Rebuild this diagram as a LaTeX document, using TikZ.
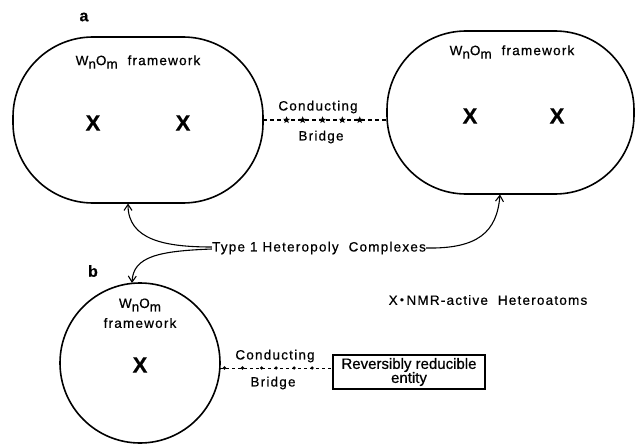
\documentclass[tikz,border=0pt]{standalone}
\usepackage{fontspec}
\setmainfont{Liberation Sans}[LetterSpace=9,FakeBold=0.6]
\newfontfamily\boxfont{Liberation Sans}[FakeBold=0.6]
\usetikzlibrary{arrows.meta,shapes.geometric}
\newcommand\sbs[1]{\raisebox{-0.5ex}{#1}}
\newcommand\wo{W\sbs{n}O\sbs{m}}
\begin{document}
\begin{tikzpicture}[x=1pt,y=-1pt,
  frame/.style={draw,line width=1.6pt,inner sep=0pt,outer sep=0pt},
  txt/.style={inner sep=0pt,font=\fontsize{13.5}{15}\selectfont},
  bigx/.style={inner sep=0pt,font=\fontsize{22}{24}\selectfont\bfseries},
  lbl/.style={inner sep=0pt,font=\fontsize{16}{18}\selectfont\bfseries},
  starm/.style={star,star points=5,star point ratio=2.4,fill,minimum size=7.5pt,inner sep=0pt},
  dotm/.style={circle,fill,minimum size=3.6pt,inner sep=0pt},
  arr/.style={line width=1.1pt,-{Straight Barb[length=6pt,width=8pt]}}]
\useasboundingbox (0,0) rectangle (635,444);
% frames
\node[frame,rounded corners=80pt,minimum width=250pt,minimum height=166pt] (aL) at (138,120) {};
\node[frame,rounded corners=79pt,minimum width=247pt,minimum height=163pt] (aR) at (510.5,112.5) {};
\node[frame,circle,minimum size=160pt] (bC) at (140,363) {};
\node[draw,line width=1.3pt,inner sep=0pt,minimum width=152pt,minimum height=34pt,align=center,
      font=\boxfont\fontsize{15}{16}\selectfont] (box) at (409,372) {Reversibly reducible\\[-2pt]entity};
% labels
\node[lbl] (la) at (84,17) {a};
\node[lbl] (lb) at (93,271) {b};
\node[txt] (wL) at (138,62) {\wo\ \ framework};
\node[txt] (wR) at (512,52) {\wo\ \ framework};
\node[txt] (wB) at (140,305) {\wo};
\node[txt] (fB) at (140,323) {framework};
\node[bigx] (x1) at (93,123) {X};
\node[bigx] (x2) at (183,123) {X};
\node[bigx] (x3) at (470,116) {X};
\node[bigx] (x4) at (557,116) {X};
\node[bigx] (x5) at (140,365) {X};
\node[txt] (c1) at (318,107) {Conducting};
\node[txt] (g1) at (321,137) {Bridge};
\node[txt] (c2) at (275,356) {Conducting};
\node[txt] (g2) at (273,383) {Bridge};
\node[txt] (typ) at (319,248) {Type 1 Heteropoly\ \ Complexes};
\node[txt] (nmr) at (488,300) {X\,\raisebox{0.35ex}{\scalebox{0.6}{$\bullet$}}\,NMR-active\ \ Heteroatoms};
% bridges
\coordinate (bt) at (aL.east -| aR.west);
\draw[line width=1.1pt,dash pattern=on 4pt off 3pt] (aL.east) -- (bt)
  foreach \p in {0.19,0.32,0.48,0.64,0.78} {node[starm,pos=\p]{}};
\coordinate (bb1) at (220,368);
\coordinate (bb2) at (bb1 -| box.west);
\draw[line width=1pt,dash pattern=on 3pt off 3pt] (bb1) -- (bb2)
  foreach \p in {0.04,0.2,0.37,0.5,0.66,0.82} {node[dotm,pos=\p]{}};
% arrows
\draw[arr] ([yshift=1pt]typ.west) .. controls (165,247) and (128,240) .. (128,203.5);
\draw[arr] ([yshift=-1pt]typ.west) .. controls (160,251) and (133,256) .. (132,283);
\draw[arr] (typ.east) .. controls (478,249) and (497,232) .. (500,194.5);
\end{tikzpicture}
\end{document}
